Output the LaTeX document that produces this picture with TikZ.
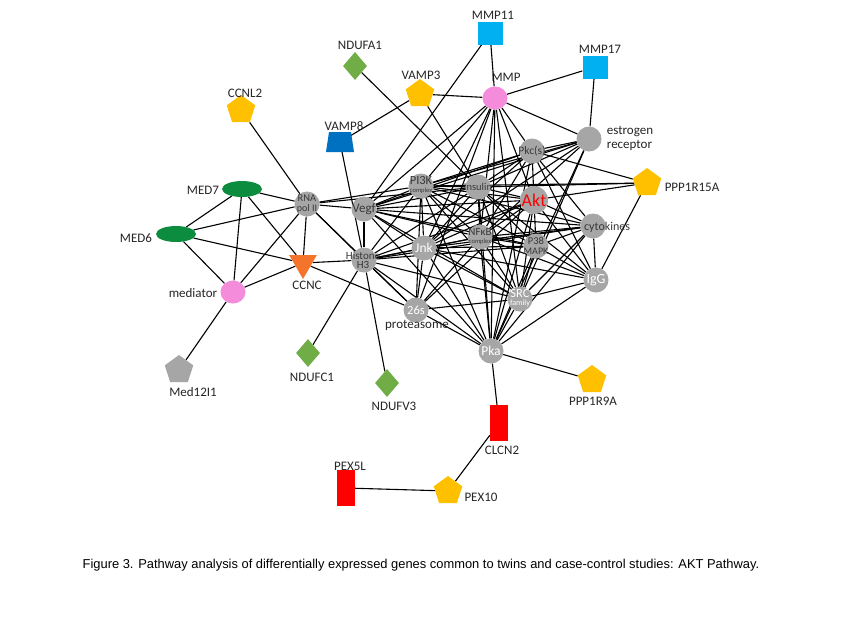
\documentclass[tikz,border=0pt]{standalone}
\usepackage{fontspec}
\setmainfont{Carlito}
\newfontfamily\capfont{Liberation Sans}
\usetikzlibrary{shapes.geometric}
\pgfdeclarelayer{bg}
\pgfsetlayers{bg,main}
\newcommand\fsz[1]{\fontsize{#1}{#1}\selectfont}
\definecolor{grayc}{HTML}{A6A6A6}
\definecolor{cyanc}{HTML}{00B0F0}
\definecolor{greenl}{HTML}{70AD47}
\definecolor{greend}{HTML}{0B8C3F}
\definecolor{yellowc}{HTML}{FFC000}
\definecolor{pinkc}{HTML}{F58BDB}
\definecolor{bluec}{HTML}{0070C0}
\definecolor{orangec}{HTML}{F4742B}
\definecolor{redc}{HTML}{FF0000}
\definecolor{dtext}{HTML}{383838}
\begin{document}
\begin{tikzpicture}[x=1pt,y=-1pt,
  gnode/.style={circle,fill=grayc,minimum size=25pt,inner sep=0pt},
  gt/.style={inner sep=0pt,align=center,text=dtext},
  wt/.style={gt,text=white},
  sq/.style={rectangle,fill=cyanc,minimum width=25pt,minimum height=23pt,inner sep=0pt},
  dia/.style={diamond,fill=greenl,minimum width=24pt,minimum height=28pt,inner sep=0pt},
  pent/.style={regular polygon,regular polygon sides=5,fill=yellowc,minimum size=30pt,inner sep=0pt},
  tri/.style={regular polygon,regular polygon sides=3,shape border rotate=180,fill=orangec,minimum size=32pt,inner sep=0pt},
  ell/.style={ellipse,fill=greend,minimum width=40pt,minimum height=16pt,inner sep=0pt},
  pk/.style={ellipse,fill=pinkc,minimum width=25pt,minimum height=23pt,inner sep=0pt},
  rct/.style={rectangle,fill=redc,minimum width=18pt,minimum height=36pt,inner sep=0pt},
  lbl/.style={inner sep=0pt,font=\fsz{13},text=black!85},
  edge/.style={line width=1.1pt,black}]
\begin{pgfonlayer}{bg}
\useasboundingbox[fill=white] (0,0) rectangle (850,638);
\end{pgfonlayer}

% peripheral nodes
\node[sq] (MMP11) at (490,33) {};
\node[sq] (MMP17) at (595,67) {};
\node[dia] (NDUFA1) at (355,66) {};
\node[pent] (VAMP3) at (420,94) {};
\node[pk] (MMP) at (495,98) {};
\node[pent] (CCNL2) at (241,110) {};
\fill[bluec] (326,152) -- (354,152) -- (351,132) -- (329,132) -- cycle;
\node[circle,minimum size=20pt,inner sep=0pt] (VAMP8) at (340,142) {};
\node[pent] (PPP15) at (647,183) {};
\node[ell] (MED7) at (242,189) {};
\node[ell] (MED6) at (176,234) {};
\node[tri] (CCNC) at (303,263) {};
\node[pk] (med) at (233,292) {};
\node[regular polygon,regular polygon sides=5,fill=grayc,minimum size=30pt,inner sep=0pt] (M12) at (179,370) {};
\node[dia] (NDUFC1) at (308,353) {};
\node[dia] (NDUFV3) at (387,383) {};
\node[pent] (PPP9) at (592,380) {};
\node[rct] (CLCN2) at (499,423) {};
\node[rct] (PEX5L) at (346,488) {};
\node[pent] (PEX10) at (448,491) {};

% core nodes (circles)
\node[gnode] (RNA) at (307,204) {};
\node[gnode] (PI3K) at (421,186) {};
\node[gnode] (Ins) at (478,187) {};
\node[gnode] (Pkc) at (532,151) {};
\node[gnode] (ER) at (589,139) {};
\node[gnode,minimum size=28pt] (Akt) at (534,200) {};
\node[gnode] (Vegf) at (364,209) {};
\node[gnode] (cyt) at (593,226) {};
\node[gnode] (Jnk) at (424,248) {};
\node[gnode] (NFkB) at (480,237) {};
\node[gnode] (P38) at (536,246) {};
\node[gnode] (His) at (364,260) {};
\node[gnode] (IgG) at (596,280) {};
\node[gnode] (SRC) at (520,299) {};
\node[gnode] (P26) at (416,310) {};
\node[gnode] (Pka) at (491,351) {};

% texts in circles
\node[gt] (t-RNA) at (307,204) {\fsz{10.5}RNA\\[-1.5pt]\fsz{10}pol II};
\node[gt] (t-PI3K) at (421,185) {\fsz{12.5}PI3K\\[-4pt]\fsz{6.5}complex};
\node[gt,font=\fsz{10.5}] (t-Ins) at (478,187) {Insulin};
\node[gt,font=\fsz{11.5}] (t-Pkc) at (532,151) {Pkc(s)};
\node[gt,font=\fsz{18},text=redc] (t-Akt) at (534,200) {Akt};
\node[gt,font=\fsz{13}] (t-Vegf) at (364,209) {Vegf};
\node[gt,font=\fsz{12}] (t-cyt) at (607,227) {cytokines};
\node[wt,font=\fsz{13.5}] (t-Jnk) at (424,248) {Jnk};
\node[gt] (t-NFkB) at (480,236) {\fsz{11}NFκB\\[-4pt]\fsz{6.5}complex};
\node[gt] (t-P38) at (536,246) {\fsz{10.5}P38\\[-2pt]\fsz{10}MAPK};
\node[gt] (t-His) at (363,260) {\fsz{11}Histone\\[-2.5pt]\fsz{11}H3};
\node[wt,font=\fsz{14}] (t-IgG) at (596,280) {IgG};
\node[wt] (t-SRC) at (520,298) {\fsz{12.5}SRC\\[-4pt]\fsz{8}family};
\node[wt,font=\fsz{12.5}] (t-P26) at (416,310) {26s};
\node[wt,font=\fsz{13.5}] (t-Pka) at (491,351) {Pka};

% labels
\node[lbl] (l-MMP11) at (493,15) {MMP11};
\node[lbl] (l-MMP17) at (600,49) {MMP17};
\node[lbl] (l-NDUFA1) at (360,45) {NDUFA1};
\node[lbl] (l-VAMP3) at (421,75) {VAMP3};
\node[lbl] (l-MMP) at (506,77) {MMP};
\node[lbl] (l-CCNL2) at (245,93) {CCNL2};
\node[lbl] (l-VAMP8) at (344,126) {VAMP8};
\node[lbl,align=left] (l-ER) at (630,138) {estrogen\\[1pt]receptor};
\node[lbl] (l-PPP15) at (692,187) {PPP1R15A};
\node[lbl] (l-MED7) at (203,190) {MED7};
\node[lbl] (l-MED6) at (136,238) {MED6};
\node[lbl] (l-CCNC) at (307,285) {CCNC};
\node[lbl] (l-med) at (193,293) {mediator};
\node[lbl] (l-P26) at (417,325) {proteasome};
\node[lbl] (l-M12) at (193,392) {Med12I1};
\node[lbl] (l-NDUFC1) at (312,377) {NDUFC1};
\node[lbl] (l-NDUFV3) at (394,406) {NDUFV3};
\node[lbl] (l-PPP9) at (593,401) {PPP1R9A};
\node[lbl] (l-CLCN2) at (502,450) {CLCN2};
\node[lbl] (l-PEX5L) at (350,466) {PEX5L};
\node[lbl] (l-PEX10) at (481,497) {PEX10};
\node[inner sep=0pt,font=\capfont\fsz{12.9}] (cap) at (421,565) {Figure 3. Pathway analysis of differentially expressed genes common to twins and case-control studies: AKT Pathway.};

\begin{pgfonlayer}{bg}
% peripheral edges
\draw[edge] (MMP11) -- (MMP);
\draw[edge] (MMP11) -- (Vegf);
\draw[edge] (MMP17) -- (MMP);
\draw[edge] (MMP17) -- (ER);
\draw[edge] (NDUFA1) -- (Ins);
\draw[edge] (VAMP3) -- (MMP);
\draw[edge] (VAMP3) -- (VAMP8);
\draw[edge] (VAMP3) -- (Ins);
\draw[edge] (VAMP8) -- (His);
\draw[edge] (CCNL2) -- (RNA);
\draw[edge] (RNA) -- (MED7);
\draw[edge] (RNA) -- (MED6);
\draw[edge] (RNA) -- (CCNC);
\draw[edge] (RNA) -- (med);
\draw[edge] (RNA) -- (P26);
\draw[edge] (MED7) -- (MED6);
\draw[edge] (MED7) -- (med);
\draw[edge] (MED7) -- (CCNC);
\draw[edge] (MED6) -- (med);
\draw[edge] (MED6) -- (CCNC);
\draw[edge] (med) -- (CCNC);
\draw[edge] (med) -- (M12);
\draw[edge] (CCNC) -- (P26);
\draw[edge] (CCNC) -- (His);
\draw[edge] (His) -- (NDUFC1);
\draw[edge] (His) -- (NDUFV3);
\draw[edge] (Pka) -- (PPP9);
\draw[edge] (Pka) -- (CLCN2);
\draw[edge] (CLCN2) -- (PEX10);
\draw[edge] (PEX10) -- (PEX5L);
\draw[edge] (PPP15) -- (Pkc);
\draw[edge] (PPP15) -- (Ins);
\draw[edge] (PPP15) -- (PI3K);
\draw[edge] (PPP15) -- (Akt);
\draw[edge] (PPP15) -- (IgG);

% core edges
\foreach \t in {Vegf,PI3K,Jnk,P26,NFkB,Pka,SRC,Akt,Pkc,ER}
  \draw[edge] (MMP) -- (\t);
\foreach \t in {Pkc,PI3K,Ins,Jnk,NFkB,SRC,Pka,Vegf}
  \draw[edge] (ER) -- (\t);
\foreach \t in {PI3K,Ins,Akt,cyt,Jnk,NFkB,IgG,Vegf,Pka}
  \draw[edge] (Pkc) -- (\t);
\foreach \t in {Ins,Vegf,RNA,Jnk,NFkB,Akt,P38,cyt,His,Pka,SRC,P26}
  \draw[edge] (PI3K) -- (\t);
\foreach \t in {Vegf,RNA,NFkB,Jnk,Akt,P38,IgG,Pka,His,SRC}
  \draw[edge] (Ins) -- (\t);
\foreach \t in {Vegf,NFkB,Jnk,P38,cyt,IgG,SRC,Pka,His,P26}
  \draw[edge] (Akt) -- (\t);
\foreach \t in {RNA,His,Jnk,NFkB,P38,cyt,SRC,Pka}
  \draw[edge] (Vegf) -- (\t);
\foreach \t in {NFkB,P38,cyt,His,P26,Pka,SRC,IgG}
  \draw[edge] (Jnk) -- (\t);
\foreach \t in {P38,cyt,His,P26,Pka,SRC,IgG}
  \draw[edge] (NFkB) -- (\t);
\foreach \t in {cyt,IgG,Pka,SRC,His}
  \draw[edge] (P38) -- (\t);
\foreach \t in {RNA,P26,Pka,cyt,SRC}
  \draw[edge] (His) -- (\t);
\foreach \t in {IgG,SRC,Pka}
  \draw[edge] (cyt) -- (\t);
\foreach \t in {SRC,Pka}
  \draw[edge] (IgG) -- (\t);
\draw[edge] (SRC) -- (Pka);
\draw[edge] (SRC) -- (P26);
\draw[edge] (P26) -- (Pka);
\end{pgfonlayer}
\end{tikzpicture}
\end{document}
